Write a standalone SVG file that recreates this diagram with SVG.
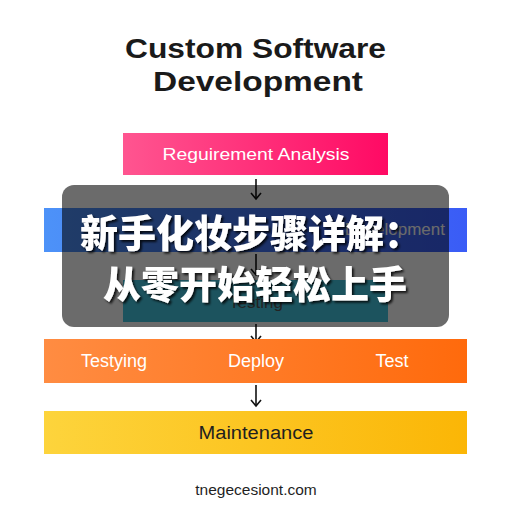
<svg xmlns="http://www.w3.org/2000/svg" width="512" height="512" viewBox="0 0 512 512">
<defs>
<linearGradient id="gPink" x1="0" y1="0" x2="1" y2="0"><stop offset="0" stop-color="#ff5590"/><stop offset="1" stop-color="#ff0a64"/></linearGradient>
<linearGradient id="gBlue" x1="0" y1="0" x2="1" y2="0"><stop offset="0" stop-color="#4d92f8"/><stop offset="1" stop-color="#3a5cf6"/></linearGradient>
<linearGradient id="gOrange" x1="0" y1="0" x2="1" y2="0"><stop offset="0" stop-color="#ff8c42"/><stop offset="1" stop-color="#ff6a0c"/></linearGradient>
<linearGradient id="gYellow" x1="0" y1="0" x2="1" y2="0"><stop offset="0" stop-color="#fdd43c"/><stop offset="1" stop-color="#fbb606"/></linearGradient>
<marker id="arr" markerWidth="12" markerHeight="12" refX="10" refY="6" orient="auto" markerUnits="userSpaceOnUse" viewBox="0 0 12 12">
<path d="M4,1 L10,6 L4,11" fill="none" stroke="#111" stroke-width="1.6"/>
</marker>
<filter id="sh" x="-10%" y="-20%" width="120%" height="140%">
<feDropShadow dx="2" dy="2" stdDeviation="1.2" flood-color="#000" flood-opacity="0.8"/>
</filter>
<style>
.lbl{font-family:"Liberation Sans",Arial,sans-serif;font-size:17px;text-anchor:middle;}
.w{fill:#fff;}
.d{fill:#1f1f1f;}
.conn line{stroke:#111;stroke-width:1.6;marker-end:url(#arr);}
.cn{font-family:"Noto Sans CJK SC",sans-serif;font-weight:900;font-size:38px;fill:#fff;}
</style>
</defs>
<rect width="512" height="512" fill="#ffffff"/>
<g id="title" font-family="Liberation Sans, Arial, sans-serif" font-weight="bold" font-size="28" fill="#1a1a1a">
<text x="125" y="58" textLength="261" lengthAdjust="spacingAndGlyphs">Custom Software</text>
<text x="153" y="91" textLength="210" lengthAdjust="spacingAndGlyphs">Development</text>
</g>
<g id="connectors" class="conn">
<line x1="256" y1="179" x2="256" y2="199"/>
<line x1="256" y1="254" x2="256" y2="275"/>
<line x1="256" y1="324" x2="256" y2="342"/>
<line x1="256" y1="385" x2="256" y2="406"/>
</g>
<g id="requirement">
<rect x="123" y="133" width="265" height="42" fill="url(#gPink)"/>
<text class="lbl w" x="256" y="160" textLength="187" lengthAdjust="spacingAndGlyphs">Reguirement Analysis</text>
</g>
<g id="development">
<rect x="44" y="208" width="423" height="44" fill="url(#gBlue)"/>
<text class="lbl w" x="445" y="235" style="text-anchor:end">Development</text>
</g>
<g id="testing">
<rect x="123" y="280" width="265" height="42" fill="#44c6df"/>
<text class="lbl" x="256" y="308" fill="#555">Testing</text>
</g>
<g id="deploy">
<rect x="44" y="339" width="423" height="44" fill="url(#gOrange)"/>
<text class="lbl w" x="114" y="367" style="font-size:18px">Testying</text>
<text class="lbl w" x="256" y="367" style="font-size:18px">Deploy</text>
<text class="lbl w" x="392" y="367" style="font-size:18px">Test</text>
</g>
<g id="maintenance">
<rect x="44" y="411" width="423" height="43" fill="url(#gYellow)"/>
<text class="lbl d" x="256" y="439" style="font-size:18px" textLength="115" lengthAdjust="spacingAndGlyphs">Maintenance</text>
</g>
<g id="footer">
<text x="256" y="495" font-family="Liberation Sans, Arial, sans-serif" font-size="15.5" fill="#1f1f1f" text-anchor="middle">tnegecesiont.com</text>
</g>
<g id="overlay">
<rect x="62" y="185" width="387" height="142" rx="12" fill="#000" fill-opacity="0.58"/>
<g filter="url(#sh)">
<text class="cn" x="80" y="247">新手化妆步骤详解：</text>
<text class="cn" x="255" y="298" text-anchor="middle">从零开始轻松上手</text>
</g>
</g>
</svg>
